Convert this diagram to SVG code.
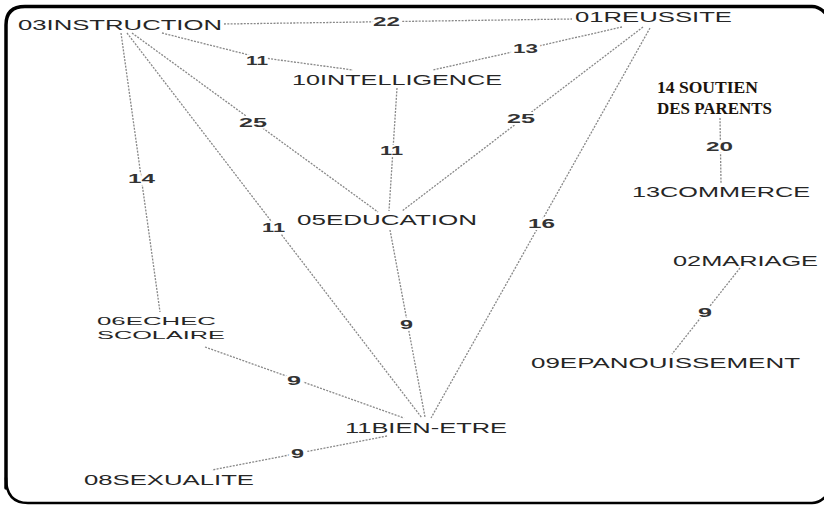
<svg xmlns="http://www.w3.org/2000/svg" width="824" height="506" viewBox="0 0 824 506">
<style>
.frame{fill:none;stroke:#000;stroke-linecap:round;stroke-linejoin:round}
.edge{fill:none;stroke:#888;stroke-width:1.3;stroke-dasharray:2 1.3}
.node{font-family:"Liberation Sans",Arial,sans-serif;font-size:14px;fill:#262626}
.small{font-size:11.5px}
.serif{font-family:"Liberation Serif","Times New Roman",serif;font-size:17px;font-weight:bold;fill:#1c140c}
.w{font-family:"Liberation Sans",Arial,sans-serif;font-size:13px;font-weight:bold;fill:#333;stroke:#fff;stroke-width:4;paint-order:stroke;stroke-linejoin:round}
</style>
<rect x="0" y="0" width="824" height="506" fill="#fff"/>
<path class="frame" stroke-width="3.5" d="M6 488 V25 Q6 6.5 25 6.5 H812 Q820 6.5 827 15"/>
<path class="frame" stroke-width="2.5" d="M6 478 Q6 503 28 503 H812 Q820 503 827 495"/>
<g id="connectors">
<line class="edge" x1="224" y1="24" x2="572" y2="19"/>
<polyline class="edge" points="162,33 257,57 353,70"/>
<line class="edge" x1="622" y1="27" x2="433" y2="70"/>
<line class="edge" x1="132" y1="33" x2="378" y2="212"/>
<line class="edge" x1="643" y1="27" x2="402" y2="211"/>
<line class="edge" x1="397" y1="88" x2="389" y2="211"/>
<line class="edge" x1="121" y1="33" x2="160" y2="312"/>
<line class="edge" x1="127" y1="33" x2="422" y2="418"/>
<line class="edge" x1="650" y1="28" x2="431" y2="418"/>
<line class="edge" x1="390" y1="230" x2="425" y2="417"/>
<line class="edge" x1="205" y1="347" x2="404" y2="418"/>
<line class="edge" x1="387" y1="436" x2="212" y2="470"/>
<line class="edge" x1="720" y1="118" x2="721" y2="183"/>
<line class="edge" x1="740" y1="268" x2="672" y2="354"/>
<text class="w" x="373" y="26" textLength="27" lengthAdjust="spacingAndGlyphs">22</text>
<text class="w" x="246" y="65" textLength="22" lengthAdjust="spacingAndGlyphs">11</text>
<text class="w" x="513" y="53" textLength="25" lengthAdjust="spacingAndGlyphs">13</text>
<text class="w" x="239" y="127" textLength="28" lengthAdjust="spacingAndGlyphs">25</text>
<text class="w" x="507" y="123" textLength="28" lengthAdjust="spacingAndGlyphs">25</text>
<text class="w" x="380" y="155" textLength="23" lengthAdjust="spacingAndGlyphs">11</text>
<text class="w" x="128" y="183" textLength="27" lengthAdjust="spacingAndGlyphs">14</text>
<text class="w" x="262" y="232" textLength="23" lengthAdjust="spacingAndGlyphs">11</text>
<text class="w" x="528" y="228" textLength="27" lengthAdjust="spacingAndGlyphs">16</text>
<text class="w" x="706" y="151" textLength="27" lengthAdjust="spacingAndGlyphs">20</text>
<text class="w" x="400" y="329" textLength="13" lengthAdjust="spacingAndGlyphs">9</text>
<text class="w" x="698" y="317" textLength="14" lengthAdjust="spacingAndGlyphs">9</text>
<text class="w" x="287" y="385" textLength="14" lengthAdjust="spacingAndGlyphs">9</text>
<text class="w" x="291" y="458" textLength="13" lengthAdjust="spacingAndGlyphs">9</text>
</g>
<g id="n03"><text class="node" x="18" y="30" textLength="204" lengthAdjust="spacingAndGlyphs">03INSTRUCTION</text></g>
<g id="n01"><text class="node" x="575" y="22" textLength="157" lengthAdjust="spacingAndGlyphs">01REUSSITE</text></g>
<g id="n10"><text class="node" x="292" y="85" textLength="210" lengthAdjust="spacingAndGlyphs">10INTELLIGENCE</text></g>
<g id="n14"><text class="serif" x="657" y="93" textLength="101" lengthAdjust="spacingAndGlyphs">14 SOUTIEN</text><text class="serif" x="657" y="114" textLength="115" lengthAdjust="spacingAndGlyphs">DES PARENTS</text></g>
<g id="n13"><text class="node" x="632" y="197" textLength="178" lengthAdjust="spacingAndGlyphs">13COMMERCE</text></g>
<g id="n05"><text class="node" x="297" y="225" textLength="180" lengthAdjust="spacingAndGlyphs">05EDUCATION</text></g>
<g id="n02"><text class="node" x="673" y="266" textLength="145" lengthAdjust="spacingAndGlyphs">02MARIAGE</text></g>
<g id="n06"><text class="node small" x="97" y="325" textLength="119" lengthAdjust="spacingAndGlyphs">06ECHEC</text><text class="node small" x="97" y="338.5" textLength="128" lengthAdjust="spacingAndGlyphs">SCOLAIRE</text></g>
<g id="n09"><text class="node" x="531" y="368" textLength="269" lengthAdjust="spacingAndGlyphs">09EPANOUISSEMENT</text></g>
<g id="n11"><text class="node" x="345" y="433" textLength="162" lengthAdjust="spacingAndGlyphs">11BIEN-ETRE</text></g>
<g id="n08"><text class="node" x="84" y="485" textLength="170" lengthAdjust="spacingAndGlyphs">08SEXUALITE</text></g>
</svg>
